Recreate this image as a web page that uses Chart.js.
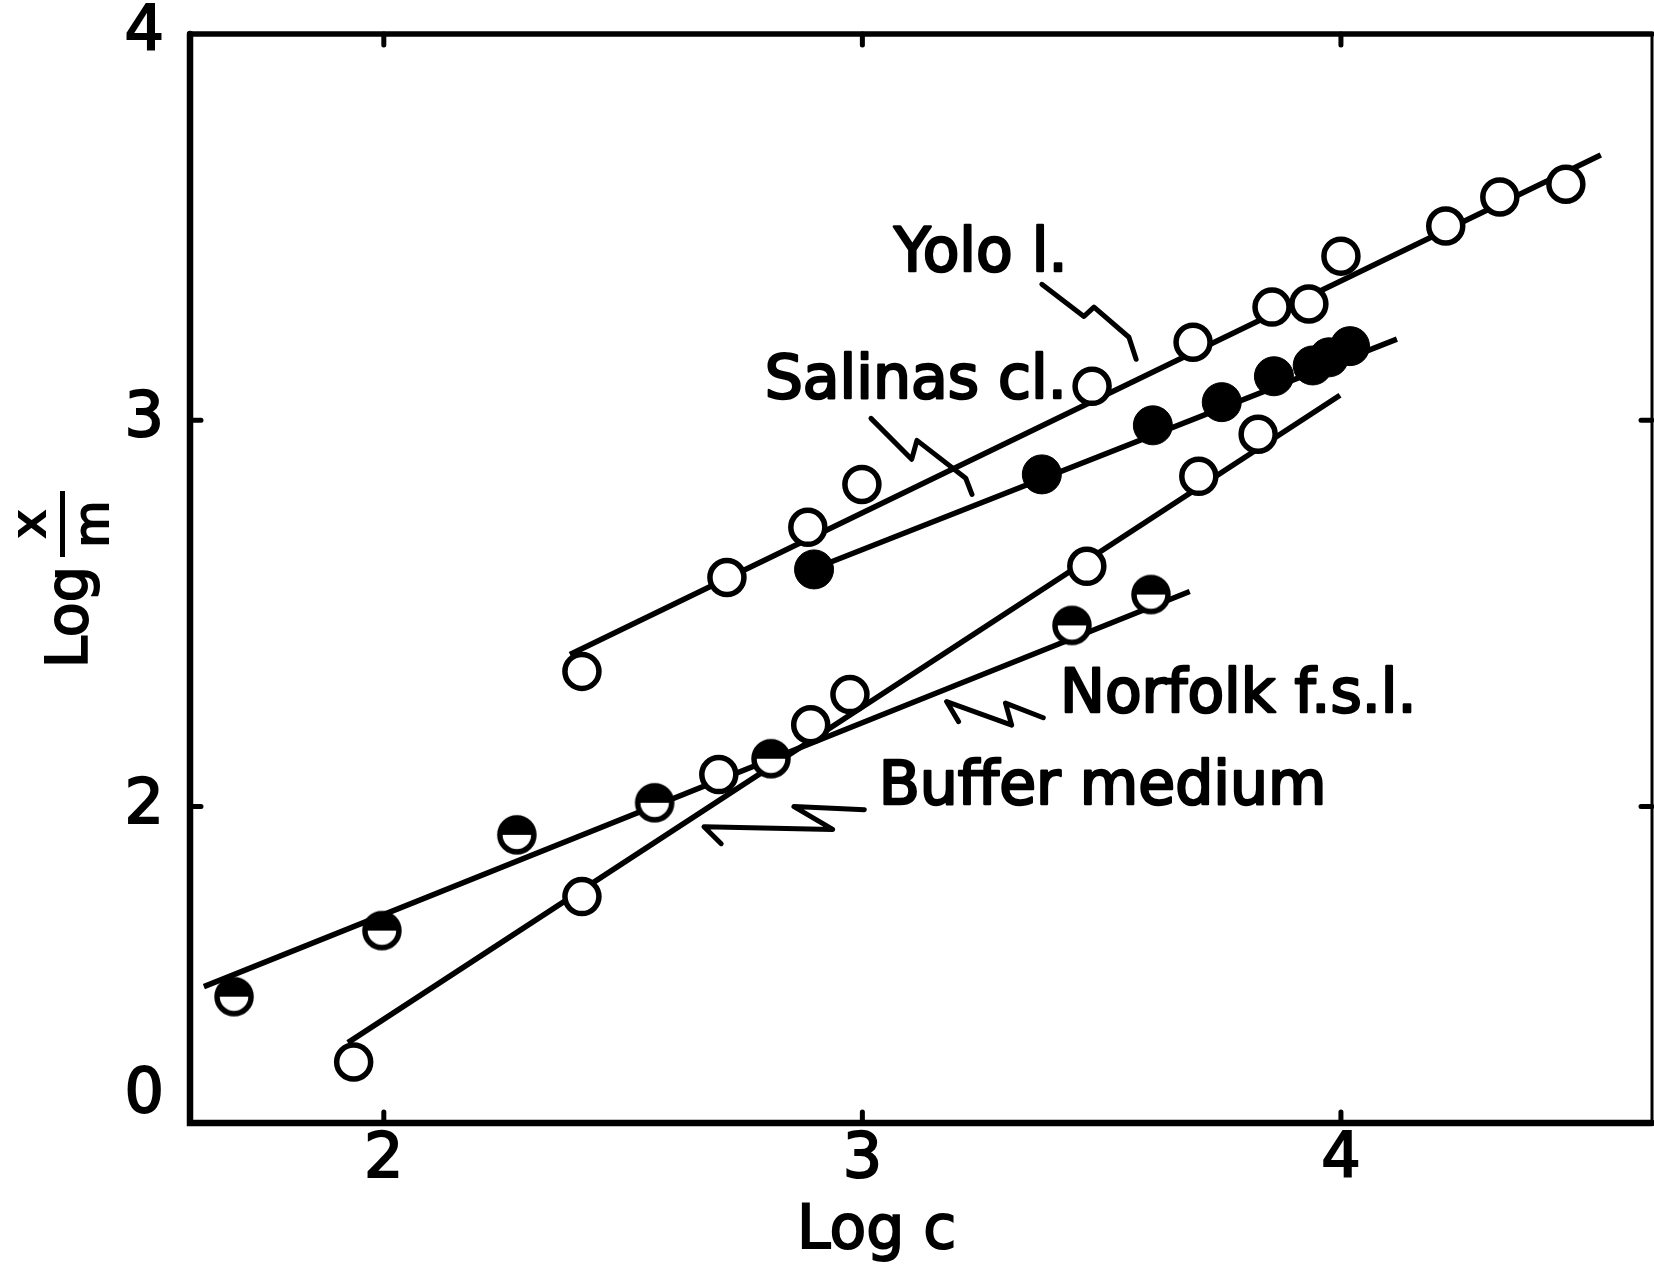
<!DOCTYPE html>
<html>
<head>
<meta charset="utf-8">
<title>Log x/m against Log c</title>
<script src="https://cdn.jsdelivr.net/npm/chart.js@4.4.1/dist/chart.umd.min.js"></script>
<style>
  html, body { margin: 0; padding: 0; background: #fff; }
  #graph { display: block; }
</style>
</head>
<body>
<canvas id="graph" width="1654" height="1266"></canvas>
<script>
// Log c (x) and Log x/m (y) for each soil
const yoloX = [2.414, 2.717, 2.886, 2.999, 3.480, 3.691, 3.856, 3.933, 4.000, 4.219, 4.332, 4.470];
const yoloY = [2.350, 2.593, 2.723, 2.834, 3.088, 3.202, 3.293, 3.301, 3.425, 3.503, 3.578, 3.611];
const salinasX = [2.899, 3.375, 3.607, 3.751, 3.860, 3.941, 3.975, 4.019];
const salinasY = [2.614, 2.860, 2.987, 3.047, 3.114, 3.142, 3.163, 3.192];
const norfolkX = [1.687, 1.996, 2.278, 2.566, 2.809, 3.438, 3.603];
const norfolkY = [1.508, 1.679, 1.927, 2.010, 2.124, 2.469, 2.549];
const bufferX = [1.937, 2.414, 2.700, 2.892, 2.974, 3.469, 3.703, 3.827];
const bufferY = [1.339, 1.767, 2.083, 2.212, 2.290, 2.622, 2.855, 2.964];

// hand drawn fit lines, end points
const yoloFitX = [2.389, 4.543];
const yoloFitY = [2.394, 3.687];
const salinasFitX = [2.905, 4.117];
const salinasFitY = [2.619, 3.210];
const norfolkFitX = [1.624, 3.684];
const norfolkFitY = [1.534, 2.557];
const bufferFitX = [1.925, 3.998];
const bufferFitY = [1.389, 3.065];

// axes
const xTicks = [2, 3, 4];
const xTickLabels = ['2', '3', '4'];
const yTicks = [1.25, 2, 3, 4];
const yTickLabels = ['0', '2', '3', '4'];
const yTickMarks = [2, 3];

// curve names with zigzag leaders (in Log c / Log x/m units)
const calloutText = ['Yolo l.', 'Salinas cl.', 'Norfolk f.s.l.', 'Buffer medium'];
const calloutAt = [[3.066, 3.427], [2.796, 3.098], [3.413, 2.285], [3.034, 2.047]];
const calloutPaths = [
  [[3.375, 3.352], [3.463, 3.269], [3.484, 3.293], [3.557, 3.215], [3.572, 3.158]],
  [[3.018, 3.005], [3.103, 2.899], [3.114, 2.948], [3.216, 2.850], [3.229, 2.808]],
  [[3.201, 2.220], [3.176, 2.272], [3.312, 2.211], [3.299, 2.268], [3.378, 2.230]],
  [[2.705, 1.904], [2.669, 1.948], [2.938, 1.941], [2.857, 2.000], [3.004, 1.992]]
];

const FONT = "'DejaVu Sans', 'Liberation Sans', sans-serif";
Chart.defaults.font.family = FONT;
Chart.defaults.color = '#000';

function pairs(xs, ys) {
  return xs.map(function (x, i) { return { x: x, y: ys[i] }; });
}

// circle with the top half blacked in
function halfDot(r, lw) {
  var size = Math.ceil(2 * r + lw + 2);
  var c = document.createElement('canvas');
  c.width = size;
  c.height = size;
  var g = c.getContext('2d');
  var m = size / 2;
  g.fillStyle = '#fff';
  g.beginPath(); g.arc(m, m, r, 0, 2 * Math.PI); g.fill();
  g.fillStyle = '#000';
  g.beginPath(); g.arc(m, m, r, Math.PI, 2 * Math.PI); g.closePath(); g.fill();
  g.lineWidth = lw;
  g.strokeStyle = '#000';
  g.beginPath(); g.arc(m, m, r, 0, 2 * Math.PI); g.stroke();
  return c;
}

function fitLine(label, xs, ys) {
  return {
    label: label,
    data: pairs(xs, ys),
    showLine: true,
    borderColor: '#000',
    borderWidth: 5.5,
    pointRadius: 0,
    order: 2
  };
}

const openDot = { pointStyle: 'circle', pointRadius: 17, pointBackgroundColor: '#fff', pointBorderColor: '#000', pointBorderWidth: 5.5 };

const datasets = [
  fitLine('Yolo fit', yoloFitX, yoloFitY),
  fitLine('Salinas fit', salinasFitX, salinasFitY),
  fitLine('Norfolk fit', norfolkFitX, norfolkFitY),
  fitLine('Buffer fit', bufferFitX, bufferFitY),
  Object.assign({ label: 'Yolo l.', data: pairs(yoloX, yoloY), order: 1 }, openDot),
  { label: 'Salinas cl.', data: pairs(salinasX, salinasY), order: 1,
    pointStyle: 'circle', pointRadius: 19.5, pointBackgroundColor: '#000', pointBorderColor: '#000', pointBorderWidth: 1 },
  { label: 'Norfolk f.s.l.', data: pairs(norfolkX, norfolkY), order: 1,
    pointStyle: halfDot(17, 5.5), pointRadius: 17 },
  Object.assign({ label: 'Buffer medium', data: pairs(bufferX, bufferY), order: 1 }, openDot)
];

// no label overhang, the plot box is set by layout padding and afterFit
function noOverhang(s) {
  s.paddingTop = 0;
  s.paddingBottom = 0;
  s.paddingLeft = 0;
  s.paddingRight = 0;
}

const decor = {
  id: 'decor',
  beforeDraw: function (chart) {
    var ctx = chart.ctx;
    ctx.save();
    ctx.fillStyle = '#fff';
    ctx.fillRect(0, 0, chart.width, chart.height);
    ctx.restore();
  },
  afterDatasetsDraw: function (chart) {
    var ctx = chart.ctx, xs = chart.scales.x, ys = chart.scales.y;
    ctx.save();
    ctx.strokeStyle = '#000';
    ctx.fillStyle = '#000';
    ctx.lineWidth = 5;
    ctx.lineJoin = 'round';
    ctx.lineCap = 'round';
    calloutPaths.forEach(function (path) {
      ctx.beginPath();
      path.forEach(function (p, i) {
        var px = xs.getPixelForValue(p[0]), py = ys.getPixelForValue(p[1]);
        if (i === 0) ctx.moveTo(px, py); else ctx.lineTo(px, py);
      });
      ctx.stroke();
    });
    ctx.font = '60px ' + FONT;
    ctx.textAlign = 'left';
    ctx.textBaseline = 'middle';
    ctx.lineWidth = 2.5;
    calloutText.forEach(function (t, i) {
      var px = xs.getPixelForValue(calloutAt[i][0]), py = ys.getPixelForValue(calloutAt[i][1]);
      ctx.fillText(t, px, py);
      ctx.strokeText(t, px, py);
    });
    ctx.restore();
  },
  afterDraw: function (chart) {
    var ctx = chart.ctx, a = chart.chartArea, xs = chart.scales.x, ys = chart.scales.y;
    ctx.save();
    ctx.strokeStyle = '#000';
    ctx.fillStyle = '#000';
    ctx.lineCap = 'round';
    // frame
    ctx.lineWidth = 6.5;
    ctx.beginPath();
    ctx.moveTo(a.left, a.top); ctx.lineTo(a.left, a.bottom); ctx.lineTo(a.right, a.bottom);
    ctx.stroke();
    ctx.lineWidth = 5.5;
    ctx.beginPath(); ctx.moveTo(a.left, a.top); ctx.lineTo(a.right, a.top); ctx.stroke();
    ctx.lineWidth = 3;
    ctx.beginPath(); ctx.moveTo(a.right, a.top); ctx.lineTo(a.right, a.bottom); ctx.stroke();
    // inward tick marks
    ctx.lineWidth = 5;
    xTicks.forEach(function (v) {
      var px = xs.getPixelForValue(v);
      ctx.beginPath();
      ctx.moveTo(px, a.top); ctx.lineTo(px, a.top + 11);
      ctx.moveTo(px, a.bottom); ctx.lineTo(px, a.bottom - 11);
      ctx.stroke();
    });
    yTickMarks.forEach(function (v) {
      var py = ys.getPixelForValue(v);
      ctx.beginPath();
      ctx.moveTo(a.left, py); ctx.lineTo(a.left + 11, py);
      ctx.moveTo(a.right, py); ctx.lineTo(a.right - 11, py);
      ctx.stroke();
    });
    // x axis title
    ctx.font = '60px ' + FONT;
    ctx.textAlign = 'center';
    ctx.textBaseline = 'alphabetic';
    ctx.lineWidth = 2;
    ctx.fillText('Log c', xs.getPixelForValue(3.03), 1248);
    ctx.strokeText('Log c', xs.getPixelForValue(3.03), 1248);
    // y axis title: Log x/m, read upwards
    ctx.translate(87, 668);
    ctx.rotate(-Math.PI / 2);
    ctx.textAlign = 'left';
    ctx.font = '57px ' + FONT;
    ctx.fillText('Log', 0, 0);
    ctx.strokeText('Log', 0, 0);
    ctx.fillRect(111, -27, 66, 5);
    ctx.textAlign = 'center';
    ctx.font = '48px ' + FONT;
    ctx.fillText('x', 144, -42);
    ctx.fillText('m', 144, 21);
    ctx.strokeText('x', 144, -42);
    ctx.strokeText('m', 144, 21);
    ctx.restore();
  }
};

const chart = new Chart(document.getElementById('graph'), {
  type: 'scatter',
  data: { datasets: datasets },
  options: {
    responsive: false,
    animation: false,
    layout: { autoPadding: false, padding: { top: 34, right: 2, left: 0, bottom: 0 } },
    plugins: { legend: { display: false }, tooltip: { enabled: false } },
    scales: {
      x: {
        type: 'linear', min: 1.595, max: 4.65,
        afterBuildTicks: function (s) { s.ticks = xTicks.map(function (v) { return { value: v }; }); },
        afterFit: function (s) { s.height = 143; noOverhang(s); },
        grid: { display: false, drawTicks: false },
        border: { display: false },
        ticks: {
          autoSkip: false, maxRotation: 0, padding: 7,
          font: { size: 62, lineHeight: 1 },
          textStrokeColor: '#000', textStrokeWidth: 2,
          callback: function (v, i) { return xTickLabels[i]; }
        }
      },
      y: {
        type: 'linear', min: 1.181, max: 4.0,
        afterBuildTicks: function (s) { s.ticks = yTicks.map(function (v) { return { value: v }; }); },
        afterFit: function (s) { s.width = 190; noOverhang(s); },
        grid: { display: false, drawTicks: false },
        border: { display: false },
        ticks: {
          autoSkip: false, padding: 26,
          font: { size: 62, lineHeight: 1 },
          textStrokeColor: '#000', textStrokeWidth: 2,
          callback: function (v, i) { return yTickLabels[i]; }
        }
      }
    }
  },
  plugins: [decor]
});
</script>
</body>
</html>
